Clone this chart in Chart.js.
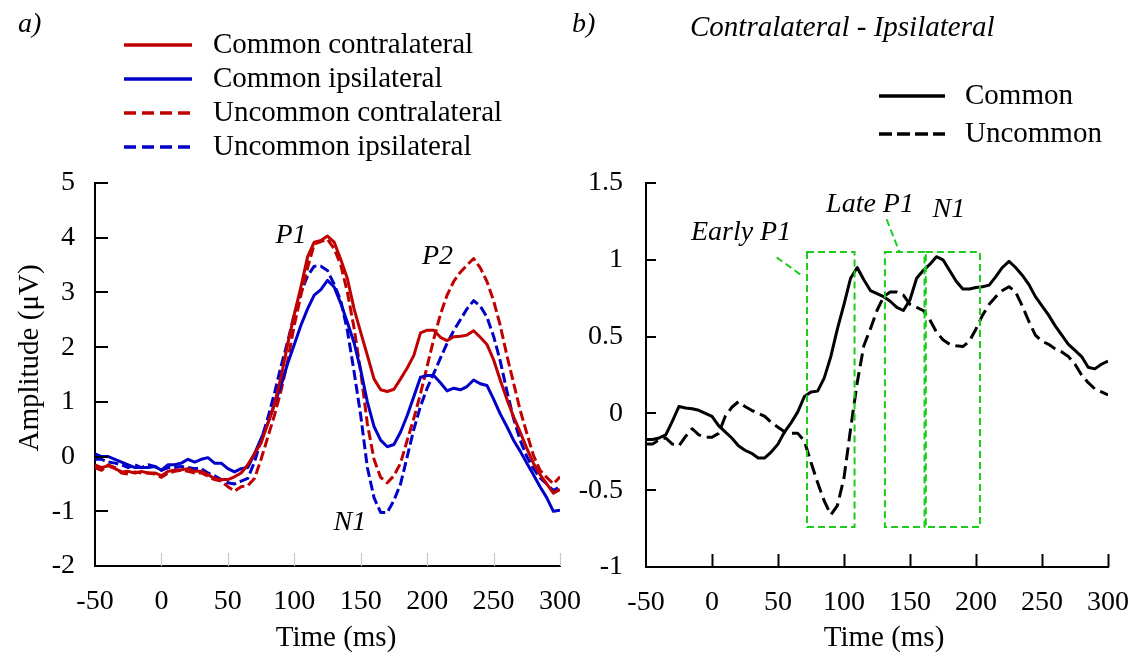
<!DOCTYPE html>
<html>
<head>
<meta charset="utf-8">
<script src="https://cdn.jsdelivr.net/npm/chart.js@4.4.0/dist/chart.umd.min.js"></script>
<style>
  html, body { margin: 0; padding: 0; background: #fff; }
  #wrap { position: relative; width: 1136px; height: 661px; }
  #wrap canvas { position: absolute; left: 0; top: 0; }
</style>
</head>
<body>
<div id="wrap">
  <canvas id="chartA" width="1136" height="661" style="width:1136px;height:661px"></canvas>
  <canvas id="chartB" width="1136" height="661" style="width:1136px;height:661px"></canvas>
</div>
<script>
// ERP waveforms (a) and contralateral - ipsilateral difference waves (b)

// time axis, ms
var timeMs = [-50, -45, -40, -35, -30, -25, -20, -15, -10, -5,
  0, 5, 10, 15, 20, 25, 30, 35, 40, 45,
  50, 55, 60, 65, 70, 75, 80, 85, 90, 95,
  100, 105, 110, 115, 120, 125, 130, 135, 140, 145,
  150, 155, 160, 165, 170, 175, 180, 185, 190, 195,
  200, 205, 210, 215, 220, 225, 230, 235, 240, 245,
  250, 255, 260, 265, 270, 275, 280, 285, 290, 295,
  300];

// panel a, amplitude in microvolts
var commonContra = [-0.15, -0.2, -0.17, -0.22, -0.28, -0.27, -0.3, -0.27, -0.3, -0.3,
  -0.35, -0.27, -0.25, -0.24, -0.22, -0.27, -0.27, -0.33, -0.4, -0.42,
  -0.42, -0.37, -0.3, -0.15, 0.05, 0.25, 0.6, 0.95, 1.45, 2.05,
  2.6, 3.1, 3.65, 3.92, 3.95, 4.03, 3.92, 3.6, 3.25, 2.7,
  2.27, 1.85, 1.42, 1.22, 1.19, 1.23, 1.42, 1.62, 1.85, 2.26,
  2.31, 2.31, 2.18, 2.12, 2.19, 2.2, 2.22, 2.3, 2.18, 2.05,
  1.77, 1.4, 1.05, 0.73, 0.45, 0.15, -0.12, -0.33, -0.5, -0.67,
  -0.6];
var commonIpsi = [0.05, 0.0, 0.0, -0.05, -0.1, -0.15, -0.2, -0.2, -0.2, -0.18,
  -0.25, -0.15, -0.15, -0.12, -0.05, -0.1, -0.05, -0.02, -0.12, -0.12,
  -0.22, -0.28, -0.22, -0.2, 0.05, 0.33, 0.6, 0.95, 1.3, 1.7,
  2.05, 2.4, 2.7, 2.95, 3.05, 3.22, 3.1, 2.8, 2.45, 2.08,
  1.58, 1.0, 0.55, 0.3, 0.18, 0.22, 0.45, 0.75, 1.1, 1.45,
  1.48, 1.48, 1.35, 1.2, 1.25, 1.22, 1.28, 1.4, 1.33, 1.3,
  1.05, 0.78, 0.55, 0.3, 0.1, -0.12, -0.33, -0.55, -0.75, -1.0,
  -0.98];
var uncommonContra = [-0.2, -0.25, -0.15, -0.2, -0.3, -0.32, -0.28, -0.3, -0.3, -0.32,
  -0.38, -0.3, -0.27, -0.25, -0.27, -0.3, -0.3, -0.36, -0.42, -0.45,
  -0.55, -0.63, -0.55, -0.53, -0.4, -0.05, 0.35, 0.75, 1.2, 1.75,
  2.4, 2.95, 3.45, 3.88, 3.93, 3.97, 3.8, 3.5, 3.0, 2.35,
  1.55, 0.6, -0.05, -0.38, -0.48, -0.35, -0.12, 0.3, 0.7, 1.15,
  1.65, 2.15, 2.6, 2.95, 3.2, 3.37, 3.5, 3.62, 3.45, 3.2,
  2.85, 2.4, 1.85, 1.35, 0.85, 0.43, 0.02, -0.25, -0.38, -0.5,
  -0.37];
var uncommonIpsi = [-0.05, -0.05, -0.1, -0.12, -0.15, -0.2, -0.15, -0.2, -0.15, -0.18,
  -0.25, -0.2, -0.2, -0.18, -0.2, -0.22, -0.22, -0.3, -0.35, -0.42,
  -0.48, -0.5, -0.45, -0.4, -0.1, 0.3, 0.7, 1.15, 1.65, 2.1,
  2.6, 3.0, 3.3, 3.48, 3.48, 3.4, 3.15, 2.85, 2.3, 1.55,
  0.75, -0.2, -0.75, -1.02, -1.02, -0.8, -0.5, 0.0, 0.5, 0.92,
  1.25, 1.52, 1.8, 2.07, 2.3, 2.5, 2.7, 2.85, 2.75, 2.55,
  2.2, 1.75, 1.2, 0.7, 0.3, 0.0, -0.22, -0.39, -0.5, -0.62,
  -0.55];

// panel b, contralateral minus ipsilateral
var diffCommon = [-0.17, -0.17, -0.16, -0.14, -0.05, 0.045, 0.035, 0.03, 0.02, 0.0,
  -0.02, -0.08, -0.12, -0.16, -0.21, -0.24, -0.26, -0.29, -0.29, -0.25,
  -0.2, -0.12, -0.06, 0.01, 0.11, 0.14, 0.145, 0.23, 0.37, 0.55,
  0.71, 0.88, 0.95, 0.87, 0.8, 0.78, 0.76, 0.73, 0.69, 0.67,
  0.74, 0.88, 0.93, 0.97, 1.02, 1.0, 0.93, 0.86, 0.81, 0.81,
  0.82, 0.825, 0.835, 0.89, 0.95, 0.99, 0.95, 0.9, 0.84, 0.76,
  0.7, 0.64, 0.57, 0.51, 0.45, 0.41, 0.37, 0.3, 0.29, 0.32,
  0.34];
var diffUncommon = [-0.2, -0.2, -0.17, -0.16, -0.2, -0.21, -0.15, -0.1, -0.14, -0.155,
  -0.155, -0.13, -0.02, 0.04, 0.076, 0.045, 0.02, 0.0, -0.02, -0.06,
  -0.09, -0.12, -0.13, -0.13, -0.18, -0.32, -0.45, -0.57, -0.66, -0.6,
  -0.42, -0.1, 0.2, 0.44, 0.55, 0.67, 0.76, 0.79, 0.79, 0.77,
  0.71, 0.69, 0.67, 0.61, 0.53, 0.48, 0.45, 0.44, 0.435, 0.47,
  0.55, 0.64, 0.71, 0.76, 0.8, 0.825, 0.79, 0.7, 0.6, 0.51,
  0.47, 0.45, 0.42, 0.4, 0.37, 0.32, 0.25, 0.2, 0.16, 0.14,
  0.12];

// tick values
var timeTicks = [-50, 0, 50, 100, 150, 200, 250, 300];
var ampTicksA = [-2, -1, 0, 1, 2, 3, 4, 5];
var ampTicksB = [-1, -0.5, 0, 0.5, 1, 1.5];

var seriesNamesA = ['Common contralateral', 'Common ipsilateral', 'Uncommon contralateral', 'Uncommon ipsilateral'];
var seriesNamesB = ['Common', 'Uncommon'];

// component labels, placed in data units
var peakLabelsA = [
  { text: 'P1', t: 97.5, v: 4.03 },
  { text: 'P2', t: 207.8, v: 3.65 },
  { text: 'N1', t: 141.9, v: -1.2 }
];
var windowLabelsB = [
  { text: 'Early P1', t: 22, v: 1.174 },
  { text: 'Late P1', t: 119.7, v: 1.357 },
  { text: 'N1', t: 179.5, v: 1.324 }
];
// analysis windows [start ms, end ms]
var windowsB = [[72, 108], [131, 161], [162, 203]];
var windowAmpRange = [-0.74, 1.05];
// leader lines [t0, v0, t1, v1]
var leadersB = [[49, 1.016, 69.2, 0.89], [132.3, 1.264, 141.9, 1.053]];

var SERIF = "'Liberation Serif', 'Times New Roman', serif";
var RED = '#c00000';
var BLUE = '#0000c8';
var GREEN = '#1ccc1c';

function points(values) {
  return values.map(function (v, i) { return { x: timeMs[i], y: v }; });
}

function series(label, values, color, dash) {
  return {
    label: label,
    data: points(values),
    borderColor: color,
    borderWidth: 3,
    borderDash: dash || [],
    borderJoinStyle: 'round',
    pointRadius: 0,
    tension: 0,
    fill: false
  };
}

function axis(position, min, max, tickValues, size, pad) {
  return {
    type: 'linear',
    position: position,
    min: min,
    max: max,
    afterBuildTicks: function (scale) {
      scale.ticks = tickValues.map(function (v) { return { value: v }; });
    },
    afterFit: function (scale) {
      // fixed box sizes, and no extra room for overhanging labels
      if (position === 'bottom') scale.height = size;
      else scale.width = size;
      scale.paddingLeft = scale.paddingRight = 0;
      scale.paddingTop = scale.paddingBottom = 0;
    },
    grid: { display: false, drawTicks: false },
    border: { display: true, color: '#000', width: 2 },
    ticks: {
      autoSkip: false,
      maxRotation: 0,
      padding: pad,
      color: '#000',
      font: { family: SERIF, size: 28 },
      callback: function (v) { return String(v); }
    }
  };
}

// tick marks pointing into the plot
var innerTicks = {
  id: 'innerTicks',
  afterDraw: function (chart, args, opts) {
    var ctx = chart.ctx;
    var xs = chart.scales.x, ys = chart.scales.y;
    ctx.save();
    ctx.lineCap = 'butt';
    ctx.strokeStyle = opts.xColor;
    ctx.lineWidth = opts.xWidth;
    xs.ticks.forEach(function (t) {
      if (t.value === xs.min) return;
      var px = Math.round(xs.getPixelForValue(t.value)) + 0.5;
      ctx.beginPath();
      ctx.moveTo(px, ys.bottom);
      ctx.lineTo(px, ys.bottom - opts.xLen);
      ctx.stroke();
    });
    ctx.strokeStyle = opts.yColor;
    ctx.lineWidth = opts.yWidth;
    ys.ticks.forEach(function (t) {
      if (t.value === ys.min) return;
      var py = Math.round(ys.getPixelForValue(t.value));
      ctx.beginPath();
      ctx.moveTo(xs.left, py);
      ctx.lineTo(xs.left + opts.yLen, py);
      ctx.stroke();
    });
    ctx.restore();
  }
};

// legend drawn from the datasets themselves
var sideLegend = {
  id: 'sideLegend',
  afterDraw: function (chart, args, opts) {
    var ctx = chart.ctx;
    ctx.save();
    ctx.font = '29px ' + SERIF;
    ctx.textBaseline = 'middle';
    ctx.textAlign = 'left';
    chart.data.datasets.forEach(function (ds, i) {
      var y = opts.top + i * opts.gap;
      ctx.strokeStyle = ds.borderColor;
      ctx.lineWidth = 3.5;
      ctx.setLineDash(ds.borderDash.length ? opts.dash : []);
      ctx.beginPath();
      ctx.moveTo(opts.left, y);
      ctx.lineTo(opts.left + opts.len, y);
      ctx.stroke();
      ctx.setLineDash([]);
      ctx.fillStyle = '#000';
      ctx.fillText(ds.label, opts.textX, y);
    });
    ctx.restore();
  }
};

// free text: panel letters, titles, axis titles
var textLayer = {
  id: 'textLayer',
  afterDraw: function (chart, args, opts) {
    var ctx = chart.ctx;
    ctx.save();
    ctx.fillStyle = '#000';
    ctx.textBaseline = 'middle';
    (opts.items || []).forEach(function (it) {
      ctx.save();
      ctx.font = (it.italic ? 'italic ' : '') + (it.size || 28) + 'px ' + SERIF;
      ctx.textAlign = it.align || 'center';
      ctx.translate(it.x, it.y);
      if (it.rotate) ctx.rotate(it.rotate);
      ctx.fillText(it.text, 0, 0);
      ctx.restore();
    });
    ctx.restore();
  }
};

// component labels, windows and leader lines in data units
var annotations = {
  id: 'annotations',
  afterDraw: function (chart, args, opts) {
    var ctx = chart.ctx;
    var xs = chart.scales.x, ys = chart.scales.y;
    ctx.save();
    ctx.strokeStyle = GREEN;
    ctx.lineWidth = 2;
    ctx.setLineDash([7, 4]);
    (opts.windows || []).forEach(function (w) {
      var x0 = xs.getPixelForValue(w[0]), x1 = xs.getPixelForValue(w[1]);
      var y0 = ys.getPixelForValue(opts.range[1]), y1 = ys.getPixelForValue(opts.range[0]);
      ctx.strokeRect(x0, y0, x1 - x0, y1 - y0);
    });
    (opts.leaders || []).forEach(function (l) {
      ctx.beginPath();
      ctx.moveTo(xs.getPixelForValue(l[0]), ys.getPixelForValue(l[1]));
      ctx.lineTo(xs.getPixelForValue(l[2]), ys.getPixelForValue(l[3]));
      ctx.stroke();
    });
    ctx.setLineDash([]);
    ctx.fillStyle = '#000';
    ctx.font = 'italic 28px ' + SERIF;
    ctx.textAlign = 'center';
    ctx.textBaseline = 'middle';
    (opts.labels || []).forEach(function (lb) {
      ctx.fillText(lb.text, xs.getPixelForValue(lb.t), ys.getPixelForValue(lb.v));
    });
    ctx.restore();
  }
};

var common = {
  responsive: false,
  animation: false,
  events: [],
  elements: { line: { borderCapStyle: 'butt' } }
};

new Chart(document.getElementById('chartA'), {
  type: 'line',
  data: {
    datasets: [
      series(seriesNamesA[0], commonContra, RED, null),
      series(seriesNamesA[1], commonIpsi, BLUE, null),
      series(seriesNamesA[2], uncommonContra, RED, [10, 4]),
      series(seriesNamesA[3], uncommonIpsi, BLUE, [10, 4])
    ]
  },
  options: Object.assign({}, common, {
    layout: { padding: { left: 0, top: 183, right: 576, bottom: 0 } },
    scales: {
      x: axis('bottom', -50, 300, timeTicks, 95, 19),
      y: axis('left', -2, 5, ampTicksA, 95, 20)
    },
    plugins: {
      legend: { display: false },
      tooltip: { enabled: false },
      innerTicks: { xColor: '#c8c8c8', xWidth: 1.2, xLen: 13, yColor: '#000', yWidth: 2, yLen: 13 },
      sideLegend: { left: 124, len: 68, textX: 213, top: 45, gap: 34, dash: [12, 6] },
      textLayer: {
        items: [
          { text: 'a)', x: 18, y: 25, italic: true, align: 'left' },
          { text: 'Time (ms)', x: 336, y: 638, size: 29 },
          { text: 'Amplitude (\u03bcV)', x: 30, y: 358, rotate: -Math.PI / 2, size: 29 }
        ]
      },
      annotations: { labels: peakLabelsA }
    }
  }),
  plugins: [innerTicks, sideLegend, textLayer, annotations]
});

new Chart(document.getElementById('chartB'), {
  type: 'line',
  data: {
    datasets: [
      series(seriesNamesB[0], diffCommon, '#000', null),
      series(seriesNamesB[1], diffUncommon, '#000', [13, 6])
    ]
  },
  options: Object.assign({}, common, {
    layout: { padding: { left: 570, top: 183, right: 28, bottom: 0 } },
    scales: {
      x: axis('bottom', -50, 300, timeTicks, 94, 19),
      y: axis('left', -1, 1.5, ampTicksB, 76, 23)
    },
    plugins: {
      legend: { display: false },
      tooltip: { enabled: false },
      innerTicks: { xColor: '#000', xWidth: 2, xLen: 13, yColor: '#000', yWidth: 2, yLen: 10 },
      sideLegend: { left: 879, len: 66, textX: 965, top: 96, gap: 38, dash: [13, 5] },
      textLayer: {
        items: [
          { text: 'b)', x: 572, y: 25, italic: true, align: 'left' },
          { text: 'Contralateral - Ipsilateral', x: 690, y: 28, italic: true, align: 'left', size: 29 },
          { text: 'Time (ms)', x: 884, y: 638, size: 29 }
        ]
      },
      annotations: {
        windows: windowsB,
        range: windowAmpRange,
        leaders: leadersB,
        labels: windowLabelsB
      }
    }
  }),
  plugins: [innerTicks, sideLegend, textLayer, annotations]
});
</script>
</body>
</html>
